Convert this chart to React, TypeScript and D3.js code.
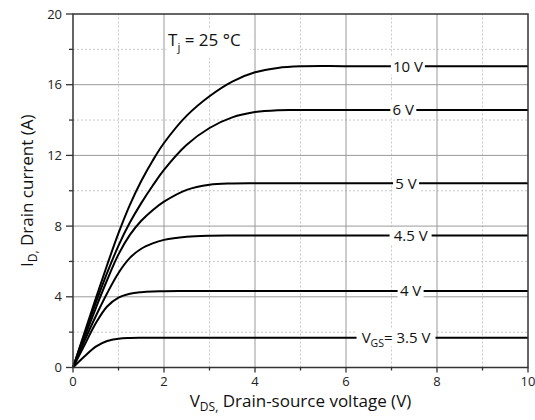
import React from "react";
import * as d3 from "d3";

// ---- data ----
const vds = [0, 0.25, 0.5, 0.75, 1, 1.25, 1.5, 1.75, 2, 2.5, 3, 3.5, 4, 4.5, 5, 6, 8, 10];
const id10V = [0, 1.95, 3.9, 5.8, 7.6, 9.2, 10.55, 11.7, 12.7, 14.25, 15.35, 16.18, 16.7, 16.95, 17.04, 17.05, 17.05, 17.05];
const id6V = [0, 1.85, 3.65, 5.35, 6.9, 8.2, 9.3, 10.28, 11.18, 12.6, 13.55, 14.15, 14.45, 14.56, 14.57, 14.57, 14.57, 14.57];
const id5V = [0, 1.7, 3.35, 4.95, 6.4, 7.5, 8.3, 8.9, 9.38, 10.05, 10.34, 10.41, 10.42, 10.42, 10.42, 10.42, 10.42, 10.42];
const id45V = [0, 1.5, 2.9, 4.2, 5.35, 6.2, 6.72, 7.02, 7.22, 7.4, 7.46, 7.47, 7.47, 7.47, 7.47, 7.47, 7.47, 7.47];
const id4V = [0, 1.25, 2.5, 3.45, 3.95, 4.17, 4.26, 4.3, 4.31, 4.33, 4.33, 4.33, 4.33, 4.33, 4.33, 4.33, 4.33, 4.33];
const id35V = [0, 0.62, 1.18, 1.5, 1.63, 1.67, 1.68, 1.68, 1.68, 1.68, 1.68, 1.68, 1.68, 1.68, 1.68, 1.68, 1.68, 1.68];

const seriesNames = ["10 V", "6 V", "5 V", "4.5 V", "4 V", "3.5 V"];
const seriesValues = [id10V, id6V, id5V, id45V, id4V, id35V];

const xTicks = [0, 2, 4, 6, 8, 10];
const xMinor = [1, 3, 5, 7, 9];
const yTicks = [0, 4, 8, 12, 16, 20];
const yMinor = [2, 6, 10, 14, 18];

// label layout (data-x where each curve label is centered)
const labelX = [7.36, 7.26, 7.32, 7.42, 7.42, 7.1];

const FONT = "'Open Sans', 'Noto Sans', sans-serif";

export default function App() {
  const W = 535, H = 420;
  const x = d3.scaleLinear().domain([0, 10]).range([73, 528]);
  const y = d3.scaleLinear().domain([0, 20]).range([367.5, 14]);
  const line = d3
    .line<[number, number]>()
    .x((d) => x(d[0]))
    .y((d) => y(d[1]))
    .curve(d3.curveCatmullRom.alpha(0.5));

  const x0 = x(0), x1 = x(10), y0 = y(0), y1 = y(20);

  return (
    <svg
      width={W}
      height={H}
      style={{ position: "absolute", left: 0, top: 0, background: "#fff" }}
      fontFamily={FONT}
    >
      <rect x={0} y={0} width={W} height={H} fill="#fff" />
      {/* minor grid */}
      {xMinor.map((v) => (
        <line key={"xm" + v} x1={x(v)} x2={x(v)} y1={y0} y2={y1} stroke="#c8c8c8" strokeWidth={1} strokeDasharray="2,2" />
      ))}
      {yMinor.map((v) => (
        <line key={"ym" + v} x1={x0} x2={x1} y1={y(v)} y2={y(v)} stroke="#c8c8c8" strokeWidth={1} strokeDasharray="2,2" />
      ))}
      {/* major grid */}
      {xTicks.slice(1, -1).map((v) => (
        <line key={"xg" + v} x1={x(v)} x2={x(v)} y1={y0} y2={y1} stroke="#9a9a9a" strokeWidth={1} />
      ))}
      {yTicks.slice(1, -1).map((v) => (
        <line key={"yg" + v} x1={x0} x2={x1} y1={y(v)} y2={y(v)} stroke="#9a9a9a" strokeWidth={1} />
      ))}

      {/* Tj annotation */}
      <rect x={166} y={28} width={84} height={30} fill="#fff" />
      <text x={168} y={46} fontSize={17} fill="#111">
        T<tspan fontSize={11.5} dy={5}>j</tspan>
        <tspan dy={-5}> = 25 °C</tspan>
      </text>

      {/* curves */}
      {seriesValues.map((vals, i) => (
        <path
          key={"c" + i}
          d={line(vds.map((v, k) => [v, vals[k]] as [number, number])) || ""}
          fill="none"
          stroke="#000"
          strokeWidth={2}
        />
      ))}

      {/* curve labels */}
      {seriesValues.map((vals, i) => {
        const cy = y(vals[vals.length - 1]);
        const cx = x(labelX[i]);
        const isGs = i === seriesNames.length - 1;
        const w = isGs ? 79 : seriesNames[i].length * 8 + 2;
        return (
          <g key={"l" + i}>
            <rect x={cx - w / 2} y={cy - 8.5} width={w} height={17} fill="#fff" />
            {isGs ? (
              <text x={cx} y={cy + 5.5} fontSize={15} textAnchor="middle" fill="#111">
                V<tspan fontSize={10.5} dy={4}>GS</tspan>
                <tspan dy={-4}>= {seriesNames[i]}</tspan>
              </text>
            ) : (
              <text x={cx} y={cy + 5.5} fontSize={15} textAnchor="middle" fill="#111">
                {seriesNames[i]}
              </text>
            )}
          </g>
        );
      })}

      {/* frame */}
      <rect x={x0} y={y1} width={x1 - x0} height={y0 - y1} fill="none" stroke="#333" strokeWidth={1.5} />

      {/* x ticks */}
      {xTicks.map((v) => (
        <g key={"xt" + v}>
          <line x1={x(v)} x2={x(v)} y1={y0} y2={y0 + 5} stroke="#333" strokeWidth={1.3} />
          <text x={x(v)} y={386} fontSize={13} textAnchor="middle" fill="#222">
            {v}
          </text>
        </g>
      ))}
      {xMinor.map((v) => (
        <line key={"xmt" + v} x1={x(v)} x2={x(v)} y1={y0} y2={y0 + 3} stroke="#333" strokeWidth={1.3} />
      ))}
      {/* y ticks */}
      {yTicks.map((v) => (
        <g key={"yt" + v}>
          <line x1={x0 - 7} x2={x0} y1={y(v)} y2={y(v)} stroke="#333" strokeWidth={1.3} />
          <text x={62} y={y(v) + 4.5} fontSize={13} textAnchor="end" fill="#222">
            {v}
          </text>
        </g>
      ))}
      {yMinor.map((v) => (
        <line key={"ymt" + v} x1={x0 - 4} x2={x0} y1={y(v)} y2={y(v)} stroke="#333" strokeWidth={1.3} />
      ))}

      {/* axis titles */}
      <text x={(x0 + x1) / 2} y={407} fontSize={17} textAnchor="middle" fill="#111">
        V<tspan fontSize={12} dy={4}>DS,</tspan>
        <tspan dy={-4}> Drain-source voltage (V)</tspan>
      </text>
      <text
        transform={`translate(33, ${(y0 + y1) / 2}) rotate(-90)`}
        x={0}
        y={0}
        fontSize={17}
        textAnchor="middle"
        fill="#111"
      >
        I<tspan fontSize={12} dy={4}>D,</tspan>
        <tspan dy={-4}> Drain current (A)</tspan>
      </text>
    </svg>
  );
}
